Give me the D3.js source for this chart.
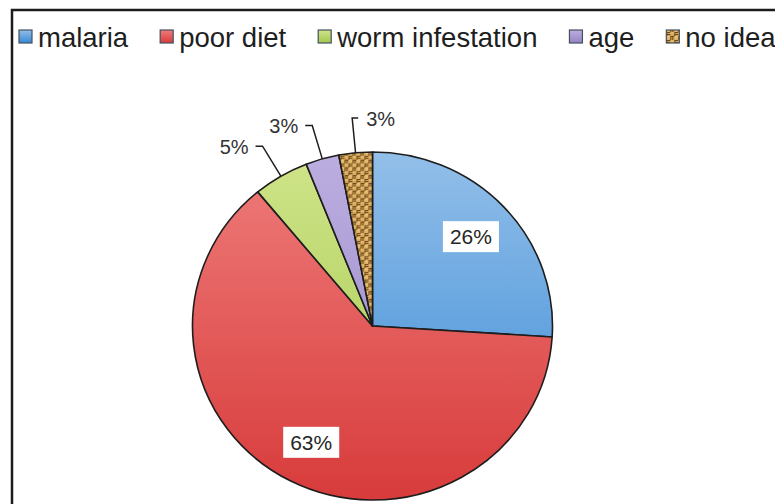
<!DOCTYPE html>
<html>
<head>
<meta charset="utf-8">
<script src="https://cdn.jsdelivr.net/npm/d3@7"></script>
<style>
  html, body { margin: 0; padding: 0; background: #fff; }
  svg { display: block; font-family: "Liberation Sans", Arial, sans-serif; }
</style>
</head>
<body>
<svg class="main" width="775" height="504"></svg>
<script>
var CATEGORIES = ["malaria", "poor diet", "worm infestation", "age", "no idea"];
var VALUES = [26, 63, 5, 3, 3];
var LABELS = ["26%", "63%", "5%", "3%", "3%"];
// light top / dark bottom for each slice
var COLORS_LIGHT = ["#93bfe9", "#ee7d7b", "#cfe489", "#bcaee0", null];
var COLORS_DARK = ["#3689d6", "#d83b3b", "#a3c84c", "#9683c6", null];

var W = 775, H = 504;
var CX = 372.5, CY = 326, R = 180, YSCALE = 0.967;

var svg = d3.select("svg.main");
var defs = svg.append("defs");

// gradients, spanning the whole pie height
COLORS_LIGHT.forEach(function(c, i) {
  if (!c) return;
  var g = defs.append("linearGradient")
    .attr("id", "grad" + i)
    .attr("gradientUnits", "userSpaceOnUse")
    .attr("x1", 0).attr("y1", -R).attr("x2", 0).attr("y2", R);
  g.append("stop").attr("offset", "0%").attr("stop-color", c);
  g.append("stop").attr("offset", "100%").attr("stop-color", COLORS_DARK[i]);
  var lg = defs.append("linearGradient")
    .attr("id", "lgrad" + i)
    .attr("x1", 0).attr("y1", 0).attr("x2", 0).attr("y2", 1);
  lg.append("stop").attr("offset", "0%").attr("stop-color", c);
  lg.append("stop").attr("offset", "100%").attr("stop-color", COLORS_DARK[i]);
});

// woven pattern for "no idea"
var pat = defs.append("pattern")
  .attr("id", "weave")
  .attr("patternUnits", "userSpaceOnUse")
  .attr("width", 8).attr("height", 8);
pat.append("rect").attr("width", 8).attr("height", 8).attr("fill", "#d7a75a");
pat.append("path")
  .attr("d", "M0,0.5H4M4,4.5H8M0.5,0V4M4.5,4V8M0,2.5H4M6.5,4V8")
  .attr("stroke", "#6a4518").attr("stroke-width", 1).attr("fill", "none");
pat.append("path")
  .attr("d", "M4,1H8M0,5H4M2,4V8")
  .attr("stroke", "#f0d28c").attr("stroke-width", 0.8).attr("fill", "none");

function fillFor(i, legend) {
  if (i == 4) return "url(#weave)";
  return "url(#" + (legend ? "lgrad" : "grad") + i + ")";
}

// frame (only top and left edges visible)
svg.append("path")
  .attr("d", "M12," + H + "V10H" + W)
  .attr("fill", "none")
  .attr("stroke", "#1c1c1c")
  .attr("stroke-width", 2.5);

// legend
var legend = svg.append("g").attr("class", "legend");
var lx = 19;
CATEGORIES.forEach(function(name, i) {
  var item = legend.append("g").attr("transform", "translate(" + lx + ",0)");
  item.append("rect")
    .attr("x", 0).attr("y", 30)
    .attr("width", 13).attr("height", 13)
    .attr("fill", fillFor(i, true))
    .attr("stroke", "#44505f")
    .attr("stroke-width", 1.2);
  var t = item.append("text")
    .attr("x", 19).attr("y", 47)
    .attr("font-size", 27.5)
    .attr("fill", "#1e1e1e")
    .text(name);
  lx += 19 + t.node().getComputedTextLength() + 32;
});

// pie
var pie = d3.pie().sort(null).value(function(d) { return d; });
var arcs = pie(VALUES);
var arc = d3.arc().innerRadius(0).outerRadius(R);
var labelArc = d3.arc().innerRadius(R * 0.75).outerRadius(R * 0.75);
var elbowArc = d3.arc().innerRadius(R * 1.2).outerRadius(R * 1.2);
var edgeArc = d3.arc().innerRadius(R).outerRadius(R);

var pieG = svg.append("g")
  .attr("transform", "translate(" + CX + "," + CY + ") scale(1," + YSCALE + ")");

pieG.selectAll("path.slice")
  .data(arcs)
  .enter().append("path")
  .attr("class", "slice")
  .attr("d", arc)
  .attr("fill", function(d, i) { return fillFor(i, false); })
  .attr("stroke", "#1d1d1d")
  .attr("stroke-width", 1.6)
  .attr("stroke-linejoin", "round")
  .attr("vector-effect", "non-scaling-stroke");

function toScreen(p) { return [CX + p[0], CY + p[1] * YSCALE]; }

// labels: big slices inside with white box, small ones outside with leaders
arcs.forEach(function(d, i) {
  var share = d.value / d3.sum(VALUES);
  if (share > 0.1) {
    var c = toScreen(labelArc.centroid(d));
    var g = svg.append("g");
    var t = g.append("text")
      .attr("x", c[0]).attr("y", c[1] + 7.5)
      .attr("text-anchor", "middle")
      .attr("font-size", 21)
      .attr("fill", "#262626")
      .text(LABELS[i]);
    var bb = t.node().getBBox();
    g.insert("rect", "text")
      .attr("x", bb.x - 7).attr("y", c[1] - 15.5)
      .attr("width", bb.width + 14).attr("height", 31)
      .attr("fill", "#fff");
  } else {
    var e = toScreen(edgeArc.centroid(d));
    var k = toScreen(elbowArc.centroid(d));
    var mid = (d.startAngle + d.endAngle) / 2;
    var right = mid > 2 * Math.PI - 0.15;
    var hx = right ? k[0] + 6 : k[0] - 7;
    svg.append("path")
      .attr("d", "M" + e[0] + "," + e[1] + "L" + k[0] + "," + k[1] + "L" + hx + "," + k[1])
      .attr("fill", "none")
      .attr("stroke", "#1e1e1e")
      .attr("stroke-width", 1.5);
    svg.append("text")
      .attr("x", right ? k[0] + 14 : k[0] - 14)
      .attr("y", k[1] + 8)
      .attr("text-anchor", right ? "start" : "end")
      .attr("font-size", 20)
      .attr("fill", "#333")
      .text(LABELS[i]);
  }
});
</script>
</body>
</html>
